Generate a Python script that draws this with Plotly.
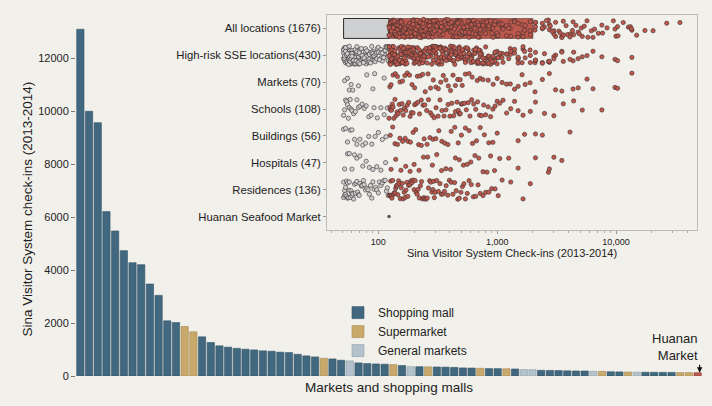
import numpy as np
import plotly.graph_objects as go

# ---------------- main bar chart data ----------------
bar_values = [13100, 10000, 9570, 6210, 5480, 4735, 4280, 4205, 3475, 3045, 2085, 2020,
              1870, 1670, 1480, 1265, 1140, 1090, 1045, 1010, 985, 950, 935, 900, 885, 820, 760, 720,
              670, 645, 595, 570, 495, 470, 455, 445, 430, 395, 355, 350, 345, 340, 335, 325, 305, 300,
              290, 280, 278, 275, 265, 245, 240, 215, 210, 205, 195, 190, 188, 178, 175, 160, 155, 150,
              145, 142, 140, 138, 135, 130, 127, 123]
bar_types = (["S"] * 12 + ["M", "M"] + ["S"] * 14 + ["M", "S", "S", "G"] + ["S"] * 4 +
             ["M", "S", "G", "S", "M"] + ["S"] * 5 + ["M", "S", "S", "M", "S", "G", "G"] +
             ["S"] * 6 + ["G", "M", "S", "S", "M", "G"] + ["S"] * 4 + ["M", "M", "H"])
type_names = {"S": "Shopping mall", "M": "Supermarket", "G": "General markets", "H": "Huanan Market"}
y_ticks = [0, 2000, 4000, 6000, 8000, 10000, 12000]

# ---------------- inset data (check-ins per location) ----------------
row_labels = ["All locations (1676)", "High-risk SSE locations(430)", "Markets (70)", "Schools (108)",
              "Buildings (56)", "Hospitals (47)", "Residences (136)", "Huanan Seafood Market"]
huanan_checkins = 123
markets = [52, 55, 57, 59, 61, 68, 80, 90, 93, 112,
           125, 128, 133, 139, 145, 152, 160, 167, 175, 183, 192, 202, 213, 225, 236, 248, 262, 275, 290, 305,
           320, 335, 352, 370, 388, 405, 425, 445, 465, 488,
           508, 540, 580, 616, 680, 720, 760, 840, 925, 1000, 1100, 1200, 1290, 1400, 1500, 1620, 1720, 1890,
           2080, 2400, 2750,
           3100, 3500, 4350, 4800, 5700, 6400, 9800, 10300, 13600]
schools = [51, 52, 53, 54, 55, 56, 57, 58, 59, 60, 62, 64, 66, 68, 70, 73, 76, 79, 83, 87, 92, 98, 105, 112, 119,
           123, 125, 127, 129, 131, 133, 135, 138, 141, 144, 147, 150, 154, 158, 162, 166, 170, 175, 180, 185,
           190, 196, 202, 208, 215, 222, 230, 238, 246, 255, 264, 274, 284, 295, 306, 318, 330, 343, 357, 371,
           386, 400, 415, 430, 445, 460, 470, 480, 490, 500,
           510, 530, 550, 570, 590, 610, 635, 660, 685, 710, 740, 770, 800, 840, 880, 920, 960, 1000, 1050,
           1120, 1200, 1300, 1400, 1500, 1650,
           1900, 2100, 2500, 3000, 3600, 4400, 5200, 7600]
buildings = [51, 53, 55, 58, 60, 63, 66, 70, 74, 78, 83, 88, 94, 100, 108, 116,
             126, 132, 138, 145, 152, 160, 168, 177, 186, 196, 206, 218, 230, 243, 257, 272, 288, 305, 323,
             342, 362, 385, 410, 440,
             470, 500, 540, 580, 620, 670, 720, 780, 850, 920, 1000, 1500,
             1700, 2100, 2400, 4100]
hospitals = [52, 55, 57, 60, 63, 66, 70, 74, 79, 84, 90, 97, 105, 115,
             128, 140, 155, 170, 185, 200, 220, 240, 260, 285, 310, 340, 370, 405, 445,
             480, 520, 560, 600, 650, 700, 760, 820, 880, 950, 1050, 1250,
             1500, 2100, 2700, 2750, 3000, 3500]
residences = [51, 51, 52, 52, 53, 53, 54, 54, 55, 55, 56, 57, 57, 58, 59, 60, 60, 61, 62, 63,
              64, 65, 66, 67, 68, 69, 70, 72, 73, 75, 76, 78, 80, 82, 84, 86, 88, 90, 92, 95,
              97, 100, 102, 105, 108, 111, 114, 117, 119, 121,
              124, 126, 127, 129, 130, 132, 134, 136, 138, 140, 142, 144, 146, 148, 150, 153, 156, 159, 162, 165,
              168, 171, 174, 177, 180, 184, 188, 192, 196, 200, 204, 208, 212, 216, 221, 226, 231, 236, 241, 246,
              252, 258, 264, 270, 276, 282, 288, 292, 296, 300,
              310, 320, 330, 340, 350, 360, 372, 384, 396, 410, 424, 438, 452, 466, 480, 495, 510, 525, 540, 560,
              580, 605, 630, 660, 690,
              720, 760, 800, 850, 900, 960, 1020, 1100, 1300, 1650, 1900]
other_locations_tail = [2400, 2600, 2800, 2900, 3100, 3300, 3400, 3600, 3800, 3900, 4100, 4300, 4600, 4900,
                        5100, 5400, 5800, 6200, 6600, 7100, 7700, 8400, 9500, 10000, 10400, 11500, 12700,
                        13200, 13500, 14900, 17500, 20500, 26700, 34500]
all_dense_band = [51, huanan_checkins, 2000]   # min, Huanan level, end of saturated band

high_risk = markets + schools + buildings + hospitals + residences + [huanan_checkins]
all_locations = high_risk + other_locations_tail
inset_x_ticks = [100, 1000, 10000]
inset_x_ticklabels = ["100", "1,000", "10,000"]

# ---------------- styles ----------------
BG = "#f2f0eb"
INSET_BG = "#e5e2da"
bar_colors = {"S": "#41687e", "M": "#c9a96b", "G": "#b3c2cc", "H": "#bb5a4e"}
bar_lines = {"S": "#34566a", "M": "#a68a55", "G": "#8f9ea8", "H": "#8e4037"}
RED = "#bf584c"
GRAY = "#cfd0d2"
OUTLINE = "#3a2f2f"
FONT = "Liberation Sans, Arial, Helvetica, sans-serif"

fig = go.Figure()

# main bars
for key in ["S", "M", "G", "H"]:
    idx = [i for i, t in enumerate(bar_types) if t == key]
    fig.add_trace(go.Bar(
        x=idx, y=[bar_values[i] for i in idx], name=type_names[key], width=0.84,
        marker=dict(color=bar_colors[key], line=dict(color=bar_lines[key], width=0.6)),
        showlegend=(key != "H"), xaxis="x", yaxis="y", hoverinfo="x+y"))

# inset: saturated band of the "All locations" row
fig.add_trace(go.Bar(
    y=[0], x=[all_dense_band[1] - all_dense_band[0]], base=[all_dense_band[0]], orientation="h",
    width=0.74, marker=dict(color=GRAY, line=dict(color="#2b2b2b", width=1)),
    showlegend=False, xaxis="x2", yaxis="y2"))
fig.add_trace(go.Bar(
    y=[0], x=[all_dense_band[2] - all_dense_band[1]], base=[all_dense_band[1]], orientation="h",
    width=0.74, marker=dict(color=RED, line=dict(color="#5a3a36", width=0.6)),
    showlegend=False, xaxis="x2", yaxis="y2"))


def jitter(n, seed, amp):
    i = np.arange(n)
    return ((np.sin((i + 1) * 12.9898 + seed * 78.233) * 43758.5453) % 1 * 2 - 1) * amp


rows = [all_locations, high_risk, markets, schools, buildings, hospitals, residences]
for r, vals in enumerate(rows):
    v = np.array(vals, dtype=float)
    amp = 0.36 if r >= 2 else 0.34
    jy = r + jitter(len(v), r + 1, amp)
    low = v < huanan_checkins
    if r == 0:
        low = np.zeros_like(low)  # gray part of the top row is saturated
    for mask, col in [(low, GRAY), (~low & (v >= huanan_checkins), RED)]:
        if mask.sum() == 0:
            continue
        fig.add_trace(go.Scatter(
            x=v[mask], y=jy[mask], mode="markers", xaxis="x2", yaxis="y2", showlegend=False,
            marker=dict(size=4.3, color=col, line=dict(color=OUTLINE, width=0.6)),
            hoverinfo="x"))

fig.add_trace(go.Scatter(
    x=[huanan_checkins], y=[7], mode="markers", xaxis="x2", yaxis="y2", showlegend=False,
    marker=dict(size=3.5, color="#555555"), hoverinfo="x"))

minor_vals = [m * 10 ** d for d in range(1, 5) for m in range(2, 10) if 37 <= m * 10 ** d <= 48000]

fig.update_layout(
    width=712, height=406,
    margin=dict(l=76, r=10, t=5, b=30),
    paper_bgcolor=BG, plot_bgcolor=BG,
    barmode="overlay",
    font=dict(family=FONT, size=11, color="#222222"),
    xaxis=dict(domain=[0, 1], range=[-0.5, 71.5], showticklabels=False, ticks="",
               showgrid=False, zeroline=False, showline=False),
    yaxis=dict(domain=[0, 1], range=[0, 14015], tickvals=y_ticks, tickformat="d",
               ticks="outside", ticklen=4,
               tickcolor="#777777", showgrid=False, zeroline=False, showline=False,
               tickfont=dict(size=11)),
    xaxis2=dict(domain=[0.401, 0.992], anchor="y2", type="log",
                range=[np.log10(37), np.log10(48000)],
                tickvals=inset_x_ticks, ticktext=inset_x_ticklabels,
                ticks="outside", ticklen=3, tickcolor="#999999", tickfont=dict(size=9),
                minor=dict(tickvals=minor_vals, ticks="outside", ticklen=2, tickcolor="#aaaaaa"),
                showgrid=False, zeroline=False, showline=True, mirror=True,
                linecolor="#bdbab3", linewidth=1,
                title=dict(text="Sina Visitor System Check-ins (2013-2014)", font=dict(size=11),
                           standoff=3)),
    yaxis2=dict(domain=[0.3935, 0.973], anchor="x2", range=[7.5, -0.5],
                tickvals=list(range(len(row_labels))), ticktext=row_labels,
                ticks="outside", ticklen=3, tickcolor="#999999", tickfont=dict(size=11.3),
                showgrid=False, zeroline=False, showline=True, mirror=True,
                linecolor="#bdbab3", linewidth=1),
    legend=dict(x=0.4185, y=0.21, xanchor="left", yanchor="top", bgcolor="rgba(0,0,0,0)",
                font=dict(size=12), tracegroupgap=0),
    shapes=[dict(type="rect", xref="x2 domain", yref="y2 domain", x0=0, x1=1, y0=0, y1=1,
                 fillcolor=INSET_BG, line=dict(width=0), layer="below")],
    annotations=[
        dict(text="Markets and shopping malls", xref="paper", yref="paper", x=0.5, y=0,
             yshift=-11.5, yanchor="middle", showarrow=False, font=dict(size=13.5)),
        dict(text="Sina Visitor System check-ins (2013-2014)", xref="paper", yref="paper",
             x=-0.0927, y=0.45, textangle=-90, showarrow=False, font=dict(size=13.5)),
        dict(text="Huanan<br>Market", x=len(bar_values) - 1, y=bar_values[-1], xref="x", yref="y",
             showarrow=True, ax=0, ay=-8, arrowhead=2, arrowsize=0.9, arrowwidth=1.2,
             arrowcolor="#111111", xanchor="right", yanchor="bottom", align="right",
             xshift=2, font=dict(size=13)),
    ],
)

fig.write_html("out.html", config={"displayModeBar": False},
               post_script="document.body.style.margin='0';")
